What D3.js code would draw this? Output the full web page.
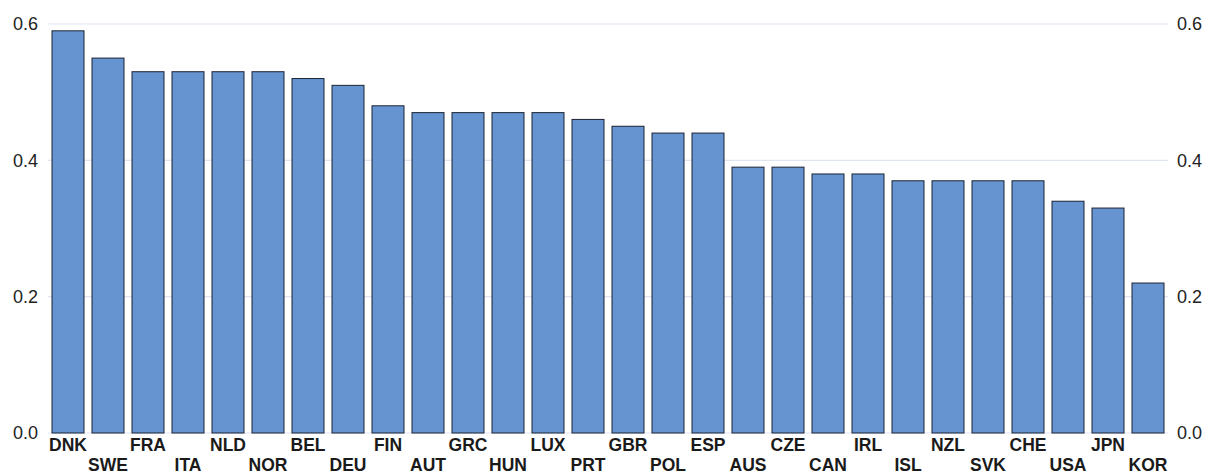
<!DOCTYPE html>
<html>
<head>
<meta charset="utf-8">
<script src="https://cdn.jsdelivr.net/npm/d3@7"></script>
<style>
  body { margin: 0; background: #fff; }
  text { font-family: "Liberation Sans", Arial, sans-serif; }
</style>
</head>
<body>
<script>
// countries in chart order, and their values
var countries = ['DNK','SWE','FRA','ITA','NLD','NOR','BEL','DEU','FIN','AUT','GRC','HUN','LUX','PRT',
                 'GBR','POL','ESP','AUS','CZE','CAN','IRL','ISL','NZL','SVK','CHE','USA','JPN','KOR'];
var values = [0.59,0.55,0.53,0.53,0.53,0.53,0.52,0.51,0.48,0.47,0.47,0.47,0.47,0.46,
              0.45,0.44,0.44,0.39,0.39,0.38,0.38,0.37,0.37,0.37,0.37,0.34,0.33,0.22];
var yTicks = [0, 0.2, 0.4, 0.6];

var svgWidth = 1206, svgHeight = 475;
var plotLeft = 48, plotRight = 1168, plotTop = 24, plotBottom = 433;

var svg = d3.select('body').append('svg')
  .attr('width', svgWidth)
  .attr('height', svgHeight);

var x = d3.scaleBand()
  .domain(countries)
  .range([plotLeft, plotRight])
  .paddingInner(0.2)
  .paddingOuter(0.1);

var y = d3.scaleLinear()
  .domain([0, 0.6])
  .range([plotBottom, plotTop]);

// gridlines
svg.selectAll('.grid')
  .data(yTicks)
  .enter()
  .append('line')
  .attr('x1', plotLeft)
  .attr('x2', plotRight)
  .attr('y1', function(d) { return y(d); })
  .attr('y2', function(d) { return y(d); })
  .attr('stroke', '#dfe5f3')
  .attr('stroke-width', 1.2);

// left and right axes (labels only)
var leftAxis = d3.axisLeft(y).tickValues(yTicks).tickFormat(d3.format('.1f')).tickSize(0).tickPadding(10);
var rightAxis = d3.axisRight(y).tickValues(yTicks).tickFormat(d3.format('.1f')).tickSize(0).tickPadding(9);

var gl = svg.append('g').attr('transform', 'translate(' + plotLeft + ',0)').call(leftAxis);
var gr = svg.append('g').attr('transform', 'translate(' + plotRight + ',0)').call(rightAxis);
[gl, gr].forEach(function(g) {
  g.select('.domain').remove();
  g.selectAll('text')
    .attr('font-size', '18px')
    .attr('fill', '#222')
    .style('font-family', '"Liberation Sans", Arial, sans-serif');
});

// bars
svg.selectAll('.bar')
  .data(countries)
  .enter()
  .append('rect')
  .attr('x', function(d) { return x(d); })
  .attr('y', function(d, i) { return y(values[i]); })
  .attr('width', x.bandwidth())
  .attr('height', function(d, i) { return y(0) - y(values[i]); })
  .attr('fill', '#6594d0')
  .attr('stroke', '#1c2333')
  .attr('stroke-width', 1);

// country labels, staggered over two rows
svg.selectAll('.lab')
  .data(countries)
  .enter()
  .append('text')
  .text(function(d) { return d; })
  .attr('x', function(d) { return x(d) + x.bandwidth() / 2; })
  .attr('y', function(d, i) { return i % 2 === 0 ? 451 : 471; })
  .attr('text-anchor', 'middle')
  .attr('font-size', '17.5px')
  .attr('font-weight', 'bold')
  .attr('fill', '#1a1a1a');
</script>
</body>
</html>
